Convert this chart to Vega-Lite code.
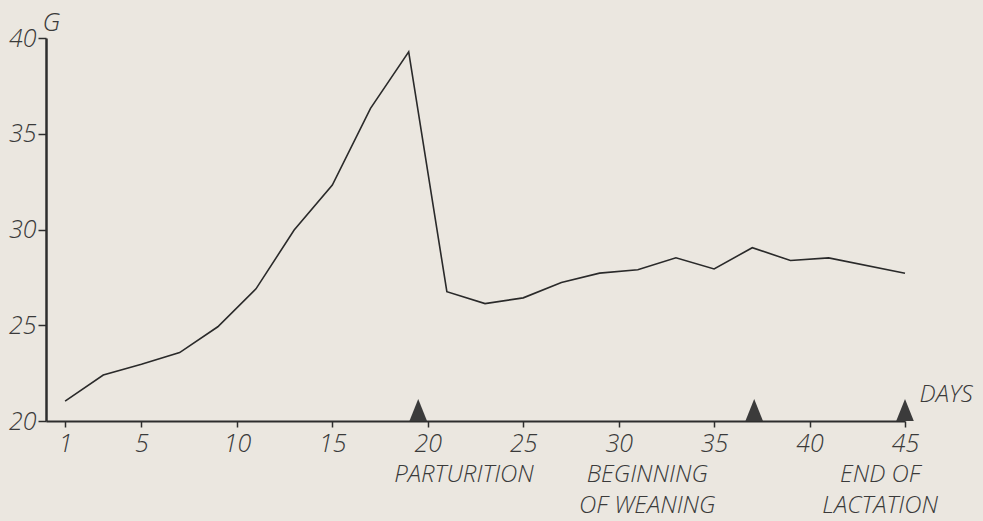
{
  "$schema": "https://vega.github.io/schema/vega-lite/v6.json",
  "autosize": "none",
  "width": 859,
  "height": 383,
  "padding": {"left": 46, "top": 38, "right": 78, "bottom": 100},
  "background": "#ebe7e0",
  "config": {
    "view": {"stroke": null},
    "font": "Open Sans",
    "axis": {
      "domainColor": "#2e2e2e",
      "tickColor": "#2e2e2e",
      "labelColor": "#3a3a3a",
      "titleColor": "#3a3a3a",
      "labelFont": "Open Sans",
      "titleFont": "Open Sans",
      "labelFontStyle": "italic",
      "titleFontStyle": "italic",
      "labelFontWeight": 300,
      "titleFontWeight": 300,
      "grid": false
    }
  },
  "datasets": {
    "weight": [
      {"day": 1, "g": 21.04},
      {"day": 3, "g": 22.4},
      {"day": 5, "g": 22.96},
      {"day": 7, "g": 23.57},
      {"day": 9, "g": 24.92},
      {"day": 11, "g": 26.9},
      {"day": 13, "g": 29.97},
      {"day": 15, "g": 32.32},
      {"day": 17, "g": 36.33},
      {"day": 19, "g": 39.28},
      {"day": 21, "g": 26.75},
      {"day": 23, "g": 26.13},
      {"day": 25, "g": 26.43},
      {"day": 27, "g": 27.23},
      {"day": 29, "g": 27.72},
      {"day": 31, "g": 27.9},
      {"day": 33, "g": 28.52},
      {"day": 35, "g": 27.94},
      {"day": 37, "g": 29.05},
      {"day": 39, "g": 28.38},
      {"day": 41, "g": 28.52},
      {"day": 45, "g": 27.72}
    ],
    "events": [
      {"event": "Parturition", "day": 19.5},
      {"event": "Beginning of weaning", "day": 37.1},
      {"event": "End of lactation", "day": 45}
    ],
    "labels": [
      {"text": "PARTURITION", "day": 21.9},
      {"text": "BEGINNING\nOF WEANING", "day": 31.5},
      {"text": "END OF\nLACTATION", "day": 43.7}
    ]
  },
  "layer": [
    {
      "data": {"name": "weight"},
      "mark": {"type": "line", "color": "#2a2a2a", "strokeWidth": 1.6},
      "encoding": {
        "x": {
          "field": "day", "type": "quantitative",
          "scale": {"domain": [0, 45], "nice": false, "zero": false},
          "axis": {
            "values": [1, 5, 10, 15, 20, 25, 30, 35, 40, 45],
            "domainWidth": 2,
            "tickSize": 6,
            "tickWidth": 1.5,
            "labelFontSize": 25,
            "labelPadding": 4,
            "labelFlush": false,
            "title": "DAYS",
            "titleFontSize": 24,
            "titleX": 873,
            "titleY": -27,
            "titleAlign": "left",
            "titleBaseline": "middle",
            "titleAnchor": "start"
          }
        },
        "y": {
          "field": "g", "type": "quantitative",
          "scale": {"domain": [20, 40], "nice": false, "zero": false},
          "axis": {
            "values": [20, 25, 30, 35, 40],
            "domainWidth": 2.5,
            "tickSize": 8,
            "tickWidth": 1.5,
            "labelFontSize": 25,
            "labelPadding": 2,
            "labelFlush": false,
            "title": "G",
            "titleFontSize": 26,
            "titleAngle": 0,
            "titleX": -4,
            "titleY": -16,
            "titleAlign": "left",
            "titleBaseline": "middle"
          }
        }
      }
    },
    {
      "data": {"name": "events"},
      "mark": {
        "type": "point",
        "shape": "M0,-2L0.8,0L-0.8,0Z",
        "size": 484,
        "filled": true,
        "color": "#3b3b3b",
        "opacity": 1,
        "clip": false
      },
      "encoding": {
        "x": {"field": "day", "type": "quantitative"},
        "y": {"datum": 20}
      }
    },
    {
      "data": {"name": "labels"},
      "mark": {
        "type": "text",
        "font": "Open Sans",
        "fontStyle": "italic",
        "fontWeight": 300,
        "fontSize": 24,
        "color": "#3a3a3a",
        "align": "center",
        "baseline": "top",
        "lineBreak": "\n",
        "lineHeight": 31,
        "dy": 42,
        "clip": false
      },
      "encoding": {
        "x": {"field": "day", "type": "quantitative"},
        "y": {"datum": 20},
        "text": {"field": "text"}
      }
    }
  ]
}
